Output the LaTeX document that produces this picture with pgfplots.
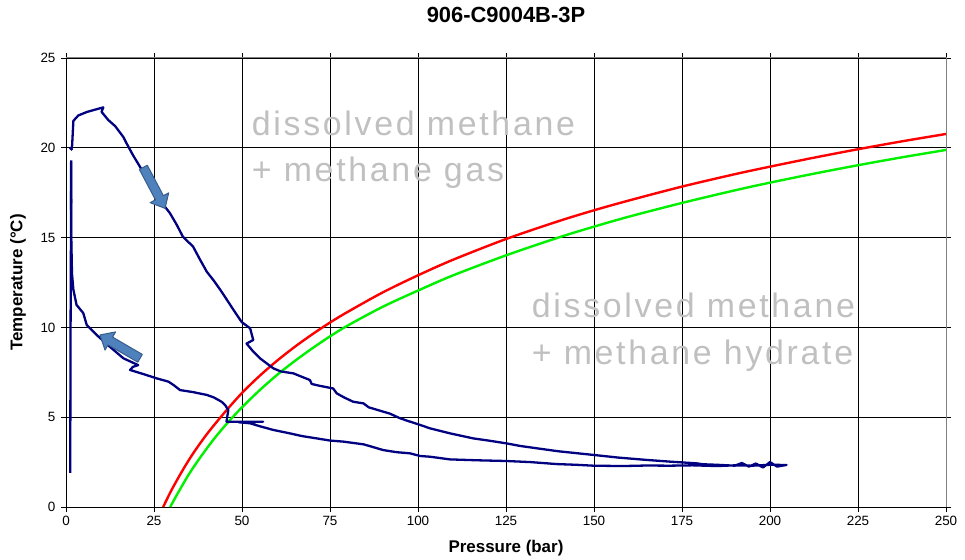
\documentclass[border=0pt]{standalone}
\usepackage{pgfplots}
\pgfplotsset{compat=1.18}
\usepackage{fontspec}
\setmainfont{Liberation Sans}
\newfontfamily\grayfont[LetterSpace=8]{Liberation Sans}
\definecolor{trace}{RGB}{0,0,128}
\definecolor{hred}{RGB}{255,0,0}
\definecolor{hgreen}{RGB}{0,240,0}
\definecolor{arrfill}{RGB}{79,129,189}
\definecolor{arrdraw}{RGB}{56,93,138}
\definecolor{txtgray}{RGB}{192,192,192}
\begin{document}
\begin{tikzpicture}
\useasboundingbox (-66bp,-53bp) rectangle (899bp,507bp);
\begin{axis}[
  at={(0,0)}, anchor=south west,
  scale only axis, width=880bp, height=449bp,
  xmin=0, xmax=250, ymin=0, ymax=25,
  xtick={0,25,...,250}, ytick={0,5,...,25},
  grid=major, grid style={black, line width=0.8bp},
  axis line style={draw=none},
  tick align=outside, major tick length=5bp,
  tick style={black, line width=0.8bp},
  /pgf/number format/assume math mode=true,
  tick label style={font=\fontsize{13.5}{15}\selectfont},
  xticklabel style={yshift=-1bp},
  yticklabel style={xshift=-2bp},
  xlabel={Pressure (bar)},
  ylabel={Temperature (\textdegree C)},
  label style={font=\bfseries\fontsize{17}{20}\selectfont},
  xlabel style={at={(axis description cs:0.5,-0.0913)}, anchor=center},
  ylabel style={at={(axis description cs:-0.0545,0.5)}, anchor=center},
  title={906-C9004B-3P},
  title style={font=\bfseries\fontsize{22}{26}\selectfont, at={(axis description cs:0.5,1.0824)}, anchor=center},
  clip=false,
]
% frame
\draw[black, line width=1bp] (rel axis cs:0,1) -- (rel axis cs:0,0) -- (rel axis cs:1,0);
\draw[gray, line width=1bp] (rel axis cs:0,1) -- (rel axis cs:1,1) -- (rel axis cs:1,0);

% hydrate curves
\addplot[hred, line width=2.4bp, smooth] coordinates {
(27.6,0)(30,0.95)(33,2.0)(36,2.95)(40,4.05)(45,5.25)(50,6.35)(55,7.3)(60,8.15)(65,8.92)(70,9.62)(75,10.27)(80,10.86)(90,11.95)(100,12.9)(110,13.77)(125,14.92)(140,15.92)(150,16.52)(160,17.07)(175,17.84)(190,18.53)(200,18.95)(212.5,19.45)(225,19.92)(237.5,20.36)(250,20.77)
};
\addplot[hgreen, line width=2.4bp, smooth] coordinates {
(29.6,0)(32,0.85)(35,1.85)(38,2.72)(42,3.78)(46,4.71)(50,5.55)(55,6.5)(60,7.36)(65,8.13)(70,8.84)(75,9.5)(80,10.1)(90,11.15)(100,12.05)(110,12.9)(125,14.01)(140,15.01)(150,15.61)(160,16.17)(175,16.93)(190,17.63)(200,18.06)(212.5,18.56)(225,19.03)(237.5,19.47)(250,19.88)
};

% measured trace
\addplot[trace, line width=2.3bp] coordinates {
(1.2,1.9)(1.3,10)(1.5,19.3)
};
\addplot[trace, line width=3.5bp] coordinates {(1.2,19.9)(1.7,20.0)};
\addplot[trace, line width=2.3bp, line join=round] coordinates {
(1.3,19.9)(1.6,20.0)(1.7,20.0)(2.1,21.5)(3.5,21.8)(6,22.0)(10.6,22.25)(10.1,22.0)(12.0,21.55)(14,21.2)(16.3,20.6)(17.2,20.25)(19,19.6)(21,18.95)(24,17.9)(26,17.3)(28.1,16.72)(29.5,16.37)(31.5,15.7)(33.2,15.05)(36.1,14.5)(38,13.8)(40,13.1)(42,12.6)(43.8,12.1)(45.5,11.6)(47.5,11.0)(49.9,10.3)(52.3,9.95)(53.2,9.3)(51.3,9.1)(53,8.7)(55.1,8.28)(57,8.0)(58.9,7.72)(61,7.55)(64.6,7.44)(67,7.25)(69.3,7.07)(69.8,6.85)(72,6.75)(75.9,6.6)(76.9,6.33)(79,6.1)(81.6,5.86)(84.5,5.77)(86,5.55)(90.1,5.31)(92,5.2)(94.9,4.94)(97,4.8)(100.6,4.57)(103.4,4.38)(109.1,4.1)(115.7,3.82)(120,3.7)(125.2,3.54)(129,3.4)(133.7,3.27)(140,3.1)(149.8,2.9)(157,2.75)(165,2.62)(172,2.52)(179.2,2.43)(181,2.38)(185,2.35)(190,2.3)(192,2.45)(194,2.25)(196,2.42)(198,2.2)(200,2.5)(202,2.25)(204.7,2.34)
(200,2.35)(195,2.3)(190,2.32)(185,2.28)(178,2.32)(171.4,2.3)(165,2.31)(158.1,2.28)(149.8,2.3)(145,2.35)(139.4,2.39)(132,2.5)(125.2,2.56)(117,2.6)(109.1,2.65)(103.4,2.8)(100.6,2.84)(97.7,2.99)(94,3.05)(90.1,3.17)(87,3.35)(84.5,3.49)(78.8,3.64)(75,3.7)(71.2,3.82)(67,3.95)(63.6,4.1)(58.9,4.29)(55,4.5)(52.3,4.66)(49,4.72)(56,4.75)(45.6,4.75)(46.1,5.4)(45.2,5.68)(44.2,5.86)(42,6.1)(40,6.24)(36,6.4)(32.4,6.51)(30.5,6.8)(29.1,6.98)(25.8,7.16)(22,7.4)(18.2,7.63)(19,7.8)(20.5,7.9)(16.3,8.28)(12,9.0)(8.7,9.58)(5.9,10.13)(4.9,10.8)(3.0,11.25)(2.1,12.1)(1.7,13)(1.5,15)(1.4,19.2)
};

% arrows
\begin{scope}[shift={(axis cs:25.05,17.77)}, rotate=-62.1]
\draw[arrdraw, fill=arrfill, line width=1bp, line join=round]
  (-23.2bp,-4.5bp) -- (11.2bp,-4.5bp) -- (11.2bp,-10.5bp) -- (23.2bp,0bp) -- (11.2bp,10.5bp) -- (11.2bp,4.5bp) -- (-23.2bp,4.5bp) -- cycle;
\end{scope}
\begin{scope}[shift={(axis cs:15.34,8.93)}, rotate=149.8]
\draw[arrdraw, fill=arrfill, line width=1bp, line join=round]
  (-23.2bp,-4.5bp) -- (11.2bp,-4.5bp) -- (11.2bp,-10.5bp) -- (23.2bp,0bp) -- (11.2bp,10.5bp) -- (11.2bp,4.5bp) -- (-23.2bp,4.5bp) -- cycle;
\end{scope}

% region labels
\node[anchor=base west, inner sep=0pt, text=txtgray, font=\grayfont\fontsize{34}{38}\selectfont] at (axis cs:52.76,20.66) {dissolved methane};
\node[anchor=base west, inner sep=0pt, text=txtgray, font=\grayfont\fontsize{34}{38}\selectfont] at (axis cs:52.76,18.15) {+ methane gas};
\node[anchor=base west, inner sep=0pt, text=txtgray, font=\grayfont\fontsize{34}{38}\selectfont] at (axis cs:132.3,10.54) {dissolved methane};
\node[anchor=base west, inner sep=0pt, text=txtgray, font=\grayfont\fontsize{34}{38}\selectfont] at (axis cs:132.3,7.91) {+ methane hydrate};
\end{axis}
\end{tikzpicture}
\end{document}
